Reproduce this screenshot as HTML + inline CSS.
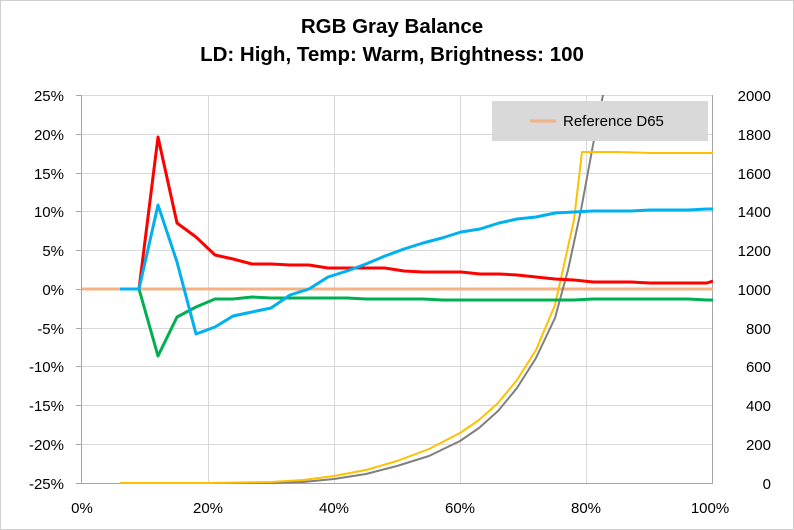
<!DOCTYPE html>
<html><head><style>
body{margin:0;background:#fff;}
svg{display:block;font-family:"Liberation Sans",Arial,sans-serif;}
</style></head><body>
<svg width="794" height="530" viewBox="0 0 794 530">
<rect x="0.5" y="0.5" width="793" height="529" fill="#fff" stroke="#d0d0d0"/>
<text x="392" y="33" text-anchor="middle" font-size="20.5" font-weight="bold" fill="#000">RGB Gray Balance</text>
<text x="392" y="61" text-anchor="middle" font-size="20.5" font-weight="bold" fill="#000">LD: High, Temp: Warm, Brightness: 100</text>
<g stroke="#d9d9d9" stroke-width="1">
<line x1="82" y1="95.5" x2="713" y2="95.5"/>
<line x1="82" y1="134.5" x2="713" y2="134.5"/>
<line x1="82" y1="173.5" x2="713" y2="173.5"/>
<line x1="82" y1="211.5" x2="713" y2="211.5"/>
<line x1="82" y1="250.5" x2="713" y2="250.5"/>
<line x1="82" y1="289.5" x2="713" y2="289.5"/>
<line x1="82" y1="328.5" x2="713" y2="328.5"/>
<line x1="82" y1="366.5" x2="713" y2="366.5"/>
<line x1="82" y1="405.5" x2="713" y2="405.5"/>
<line x1="82" y1="444.5" x2="713" y2="444.5"/>
<line x1="208.5" y1="95" x2="208.5" y2="483"/>
<line x1="334.5" y1="95" x2="334.5" y2="483"/>
<line x1="460.5" y1="95" x2="460.5" y2="483"/>
<line x1="586.5" y1="95" x2="586.5" y2="483"/>
<line x1="712.5" y1="95" x2="712.5" y2="483"/>
</g>
<g stroke="#a6a6a6" stroke-width="1">
<line x1="81.5" y1="95" x2="81.5" y2="483"/>
<line x1="81" y1="483.5" x2="713" y2="483.5"/>
<line x1="712.5" y1="95" x2="712.5" y2="483"/>
<line x1="76" y1="95.5" x2="82" y2="95.5"/><line x1="76" y1="134.5" x2="82" y2="134.5"/><line x1="76" y1="173.5" x2="82" y2="173.5"/><line x1="76" y1="211.5" x2="82" y2="211.5"/><line x1="76" y1="250.5" x2="82" y2="250.5"/><line x1="76" y1="289.5" x2="82" y2="289.5"/><line x1="76" y1="328.5" x2="82" y2="328.5"/><line x1="76" y1="366.5" x2="82" y2="366.5"/><line x1="76" y1="405.5" x2="82" y2="405.5"/><line x1="76" y1="444.5" x2="82" y2="444.5"/><line x1="76" y1="483.5" x2="82" y2="483.5"/>
</g>
<g font-size="15" fill="#000" text-anchor="end">
<text x="64" y="101">25%</text><text x="64" y="140">20%</text><text x="64" y="179">15%</text><text x="64" y="217">10%</text><text x="64" y="256">5%</text><text x="64" y="295">0%</text><text x="64" y="334">-5%</text><text x="64" y="372">-10%</text><text x="64" y="411">-15%</text><text x="64" y="450">-20%</text><text x="64" y="489">-25%</text>
</g>
<g font-size="15" fill="#000" text-anchor="end">
<text x="771" y="101">2000</text><text x="771" y="140">1800</text><text x="771" y="179">1600</text><text x="771" y="217">1400</text><text x="771" y="256">1200</text><text x="771" y="295">1000</text><text x="771" y="334">800</text><text x="771" y="372">600</text><text x="771" y="411">400</text><text x="771" y="450">200</text><text x="771" y="489">0</text>
</g>
<g font-size="15" fill="#000" text-anchor="middle">
<text x="82" y="513">0%</text><text x="208" y="513">20%</text><text x="334" y="513">40%</text><text x="460" y="513">60%</text><text x="586" y="513">80%</text><text x="710" y="513">100%</text>
</g>
<defs><clipPath id="c"><rect x="82" y="95" width="631" height="389"/></clipPath></defs>
<line x1="82" y1="289" x2="713" y2="289" stroke="#f4b183" stroke-width="3"/>
<g fill="none" stroke-width="3" stroke-linejoin="round" clip-path="url(#c)">
<polyline stroke="#7f7f7f" stroke-width="2" points="120,483 271,483 303,482 334,479 366,474 397,466 429,456 460,441 479,428 498,411 517,388 536,358 555,318 568,270 581,210 593,145 603,95"/>
<polyline stroke="#ffc000" stroke-width="2" points="120,483 208,483 271,482 303,480 334,476 366,470 397,461 429,449 460,433 479,420 498,403 517,380 536,350 555,305 574,220 582,152 618,152 650,153 713,153"/>
<polyline stroke="#ff0000" points="120,289 139,289 158,137 177,223 196,237 215,255 233,259 252,264 271,264 290,265 309,265 328,268 347,268 366,268 385,268 404,271 423,272 442,272 461,272 480,274 499,274 517,275 536,277 555,279 574,280 593,282 612,282 631,282 650,283 669,283 688,283 707,283 713,281"/>
<polyline stroke="#00b050" points="120,289 139,289 158,356 177,317 196,307 215,299 233,299 252,297 271,298 290,298 309,298 328,298 347,298 366,299 385,299 404,299 423,299 442,300 461,300 480,300 499,300 517,300 536,300 555,300 574,300 593,299 612,299 631,299 650,299 669,299 688,299 707,300 713,300"/>
<polyline stroke="#00b0f0" points="120,289 139,289 158,205 177,262 196,334 215,327 233,316 252,312 271,308 290,295 309,289 328,277 347,271 366,264 385,256 404,249 423,243 442,238 461,232 480,229 499,223 517,219 536,217 555,213 574,212 593,211 612,211 631,211 650,210 669,210 688,210 707,209 713,209"/>
</g>
<rect x="492" y="101" width="216" height="40" fill="#d9d9d9"/>
<line x1="530" y1="121" x2="556" y2="121" stroke="#f4b183" stroke-width="3"/>
<text x="563" y="126" font-size="15" fill="#000">Reference D65</text>
</svg>
</body></html>
